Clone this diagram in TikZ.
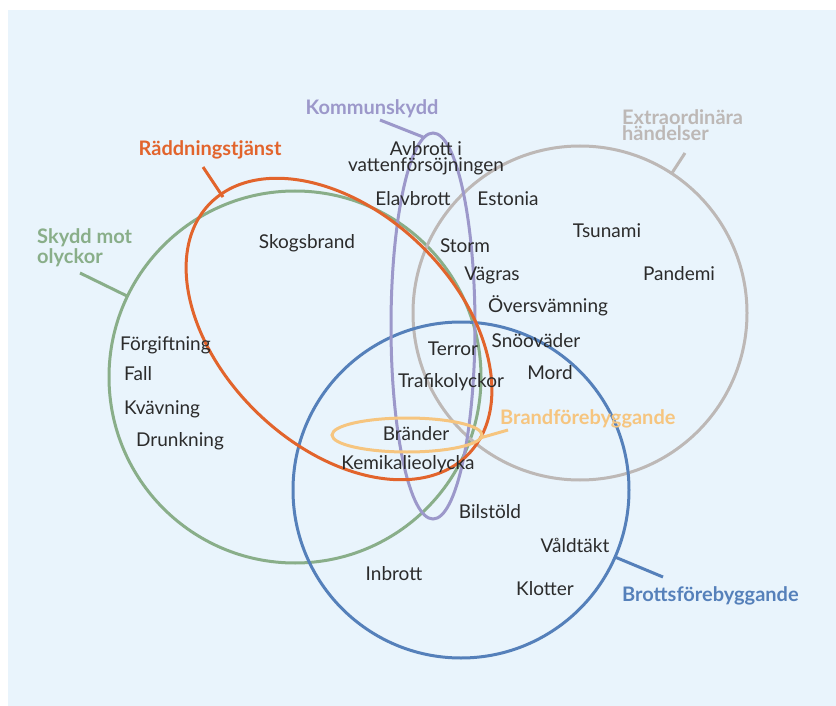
\documentclass[tikz,border=0pt]{standalone}
\usepackage{fontspec}
\setmainfont{Lato}
\definecolor{bg}{HTML}{E9F4FC}
\definecolor{txt}{HTML}{2B2B2B}
\definecolor{cgreen}{HTML}{89AE89}
\definecolor{corange}{HTML}{E2642C}
\definecolor{cpurple}{HTML}{9C98CA}
\definecolor{cgray}{HTML}{BDB8B6}
\definecolor{cblue}{HTML}{5580BA}
\definecolor{cpale}{HTML}{F6C57F}
\begin{document}
\begin{tikzpicture}[x=1pt,y=-1pt,
  ring/.style={line width=3pt},
  tickline/.style={line width=3pt},
  item/.style={font=\fontsize{19}{19}\selectfont, text=txt, inner sep=0pt, anchor=base},
  lab/.style={font=\fontsize{20}{17}\selectfont\bfseries, inner sep=0pt, anchor=base}]
\useasboundingbox (0,0) rectangle (836,706);
\fill[white] (0,0) rectangle (836,706);
\fill[bg] (8,10) rectangle (836,706);

% circles and ellipses
\coordinate (cG) at (295,377);
\coordinate (cE) at (580,313);
\coordinate (cB) at (461,490);
\coordinate (cK) at (433,326);
\coordinate (cR) at (339,329);
\coordinate (cP) at (407,435);
\draw[ring,cgreen] (cG) circle [radius=186];
\draw[ring,cgray] (cE) circle [radius=167];
\draw[ring,cblue] (cB) circle [radius=168];
\draw[ring,cpurple] (cK) ellipse [x radius=42, y radius=193];
\draw[ring,corange,rotate around={-44:(cR)}] (cR) ellipse [x radius=180, y radius=117];
\draw[ring,cpale] (cP) ellipse [x radius=75, y radius=17];

% ticks
\coordinate (tG1) at (80,273);  \coordinate (tG2) at (127,296);
\coordinate (tR1) at (203,167); \coordinate (tR2) at (223,197);
\coordinate (tK1) at (380,120); \coordinate (tK2) at (423,137);
\coordinate (tE1) at (685,153); \coordinate (tE2) at (672,173);
\coordinate (tB1) at (663,577); \coordinate (tB2) at (615,557);
\coordinate (tP1) at (508,430); \coordinate (tP2) at (480,438);
\draw[tickline,cgreen] (tG1) -- (tG2);
\draw[tickline,corange] (tR1) -- (tR2);
\draw[tickline,cpurple] (tK1) -- (tK2);
\draw[tickline,cgray] (tE1) -- (tE2);
\draw[tickline,cblue] (tB1) -- (tB2);
\draw[tickline,cpale] (tP1) -- (tP2);

% labels (base anchor of a multi-line node = baseline of its last line)
\node[lab,text=cpurple] (lK) at (372,115) {Kommunskydd};
\node[lab,text=corange] (lR) at (210,156) {Räddningstjänst};
\node[lab,text=cgreen,anchor=base west,align=left] (lG) at (37,263) {Skydd mot\\olyckor};
\node[lab,text=cgray,anchor=base west,align=left,font=\fontsize{20}{15}\selectfont\bfseries] (lE) at (622,141) {Extraordinära\\händelser};
\node[lab,text=cblue,anchor=base west] (lB) at (622,601) {Brottsförebyggande};
\node[lab,text=cpale,anchor=base west] (lP) at (500,424) {Brandförebyggande};

% items
\node[item,align=center,font=\fontsize{19}{17}\selectfont] (i1) at (426,172) {Avbrott i\\vattenförsöjningen};
\node[item] (i3) at (413,205) {Elavbrott};
\node[item] (i4) at (508,205) {Estonia};
\node[item] (i5) at (465,252) {Storm};
\node[item] (i6) at (492,280) {Vägras};
\node[item] (i7) at (548,312) {Översvämning};
\node[item] (i8) at (307,248) {Skogsbrand};
\node[item] (i9) at (607,237) {Tsunami};
\node[item] (i10) at (679,280) {Pandemi};
\node[item] (i11) at (536,347) {Snöoväder};
\node[item] (i12) at (453,355) {Terror};
\node[item] (i13) at (451,387) {Trafikolyckor};
\node[item] (i14) at (550,379) {Mord};
\node[item] (i15) at (416,440) {Bränder};
\node[item] (i16) at (408,469) {Kemikalieolycka};
\node[item] (i17) at (490,518) {Bilstöld};
\node[item,anchor=base west] (i18) at (120,350) {Förgiftning};
\node[item,anchor=base west] (i19) at (124,380) {Fall};
\node[item,anchor=base west] (i20) at (124,414) {Kvävning};
\node[item,anchor=base west] (i21) at (136,446) {Drunkning};
\node[item] (i22) at (575,552) {Våldtäkt};
\node[item] (i23) at (394,580) {Inbrott};
\node[item] (i24) at (545,595) {Klotter};
\end{tikzpicture}
\end{document}
